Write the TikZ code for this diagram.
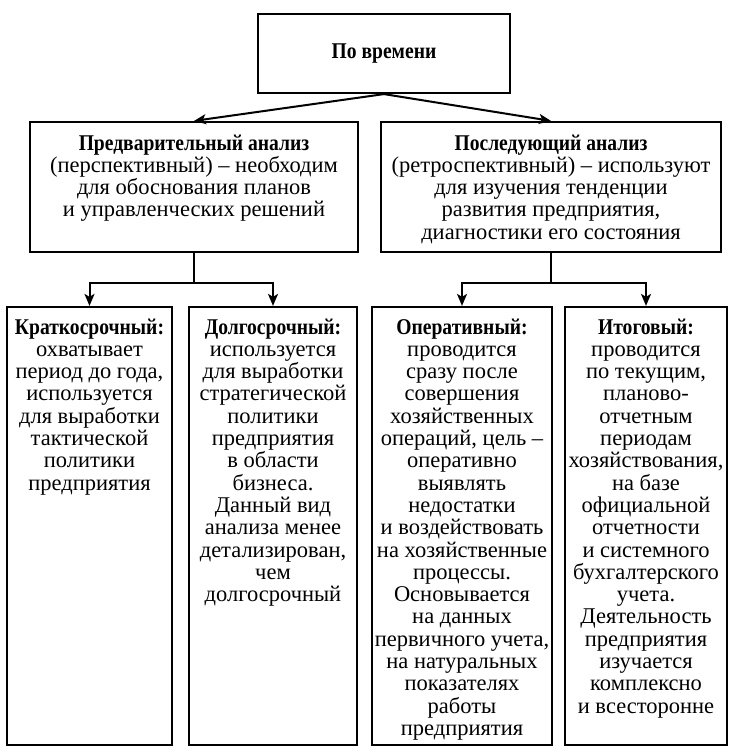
\documentclass[tikz,border=0pt]{standalone}
\usepackage{fontspec}
\setmainfont{Liberation Serif}[BoldFeatures={FakeStretch=0.87}]
\usetikzlibrary{arrows.meta}
\begin{document}
\begin{tikzpicture}[x=1pt,y=-1pt,
  box/.style={draw,line width=2.2pt,rectangle,inner sep=0pt},
  txt/.style={align=center,anchor=north,inner sep=0pt,font=\fontsize{22.5}{22.3}\selectfont},
  ctxt/.style={align=center,inner sep=0pt,font=\fontsize{22.5}{22.3}\selectfont\bfseries},
  ln/.style={line width=2pt},
  arr/.style={line width=2pt,-{Stealth[length=12pt,width=10pt,inset=3pt]}}]
\useasboundingbox (0,0) rectangle (737,754);
\fill[white] (0,0) rectangle (737,754);
% boxes
\node[box,minimum width=252pt,minimum height=79pt] (top) at (384,53.5) {};
\node[box,minimum width=328pt,minimum height=130pt] (L) at (194,187) {};
\node[box,minimum width=340pt,minimum height=130pt] (R) at (551,187) {};
\node[box,minimum width=165pt,minimum height=438pt] (B1) at (89.5,526) {};
\node[box,minimum width=168pt,minimum height=438pt] (B2) at (273,526) {};
\node[box,minimum width=180pt,minimum height=438pt] (B3) at (462,526) {};
\node[box,minimum width=162pt,minimum height=438pt] (B4) at (646,526) {};
% texts
\node[ctxt] (ttop) at (top) {По времени};
\node[txt] (tL) at ([yshift=-13.5pt]L.north) {\textbf{Предварительный анализ}\\(перспективный) – необходим\\для обоснования планов\\и управленческих решений};
\node[txt] (tR) at ([yshift=-13.5pt]R.north) {\textbf{Последующий анализ}\\(ретроспективный) – используют\\для изучения тенденции\\развития предприятия,\\диагностики его состояния};
\node[txt] (tB1) at ([yshift=-12.5pt]B1.north) {\textbf{Краткосрочный:}\\охватывает\\период до года,\\используется\\для выработки\\тактической\\политики\\предприятия};
\node[txt] (tB2) at ([yshift=-12.5pt]B2.north) {\textbf{Долгосрочный:}\\используется\\для выработки\\стратегической\\политики\\предприятия\\в области\\бизнеса.\\Данный вид\\анализа менее\\детализирован,\\чем\\долгосрочный};
\node[txt] (tB3) at ([yshift=-12.5pt]B3.north) {\textbf{Оперативный:}\\проводится\\сразу после\\совершения\\хозяйственных\\операций, цель –\\оперативно\\выявлять\\недостатки\\и воздействовать\\на хозяйственные\\процессы.\\Основывается\\на данных\\первичного учета,\\на натуральных\\показателях\\работы\\предприятия};
\node[txt] (tB4) at ([yshift=-12.5pt]B4.north) {\textbf{Итоговый:}\\проводится\\по текущим,\\планово-\\отчетным\\периодам\\хозяйствования,\\на базе\\официальной\\отчетности\\и системного\\бухгалтерского\\учета.\\Деятельность\\предприятия\\изучается\\комплексно\\и всесторонне};
% connectors
\draw[arr] (top.south) -- (L.north);
\draw[arr] (top.south) -- (R.north);
\draw[ln] (L.south) -- ++(0,30) coordinate (jl);
\draw[arr] (jl) -| (B1.north);
\draw[arr] (jl) -| (B2.north);
\draw[ln] (R.south) -- ++(0,30) coordinate (jr);
\draw[arr] (jr) -| (B3.north);
\draw[arr] (jr) -| (B4.north);
\end{tikzpicture}
\end{document}
